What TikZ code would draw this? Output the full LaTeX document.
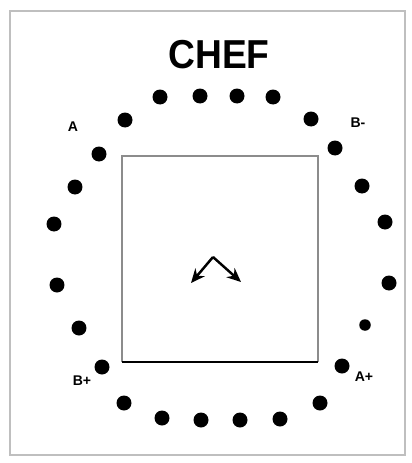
\documentclass[tikz,border=0pt]{standalone}
\usepackage{fontspec}
\setmainfont{Liberation Sans}
\usepackage{xcolor}
\usepackage{tikz}
\usetikzlibrary{shapes,arrows.meta,positioning}

\begin{document}
\begin{tikzpicture}[
    x=0.02cm, y=-0.02cm,
    seat/.style={circle, fill=black, inner sep=0pt, minimum size=0.3cm},
    smallseat/.style={circle, fill=black, inner sep=0pt, minimum size=0.23cm},
    tag/.style={font=\bfseries\footnotesize, inner sep=1pt},
    arrow/.style={line width=1.4pt, -{Stealth[length=8pt, width=7pt]}}
]
\useasboundingbox (0,0) rectangle (412,463);

% Frame
\draw[black!25, line width=0.8pt] (10,11) rectangle (405,455);

% Title
\node[font=\bfseries\fontsize{23}{25}\selectfont, xscale=0.92] (title) at (219,55) {CHEF};

% Table
\draw[black!45, line width=0.9pt] (122,362) -- (122,156) -- (318,156) -- (318,362);
\draw[black, line width=0.9pt] (122,362) -- (318,362);

% Seats
\foreach \name/\px/\py in {t1/160/97, t2/200/96, t3/237/96, t4/273/97,
    l1/125/120, l2/99/154, l3/75/187, l4/54/224, l5/57/285, l6/79/328, l7/102/367, l8/124/403,
    r1/311/119, r2/335/148, r3/362/186, r4/385/222, r5/389/283, r7/342/366, r8/320/403,
    b1/162/418, b2/201/420, b3/240/420, b4/280/419}
    \node[seat] (\name) at (\px,\py) {};
\node[smallseat] (r6) at (365,325) {};

% Labels
\node[tag] (lblA) at (73,127) {A};
\node[tag] (lblBm) at (358,123) {B-};
\node[tag] (lblBp) at (82,381) {B+};
\node[tag] (lblAp) at (364,377) {A+};

% Chef arrows
\coordinate (apex) at (213,257);
\coordinate (left) at (191,283);
\coordinate (right) at (241,282);
\draw[arrow] (apex) -- (left);
\draw[arrow] (apex) -- (right);

\end{tikzpicture}
\end{document}
